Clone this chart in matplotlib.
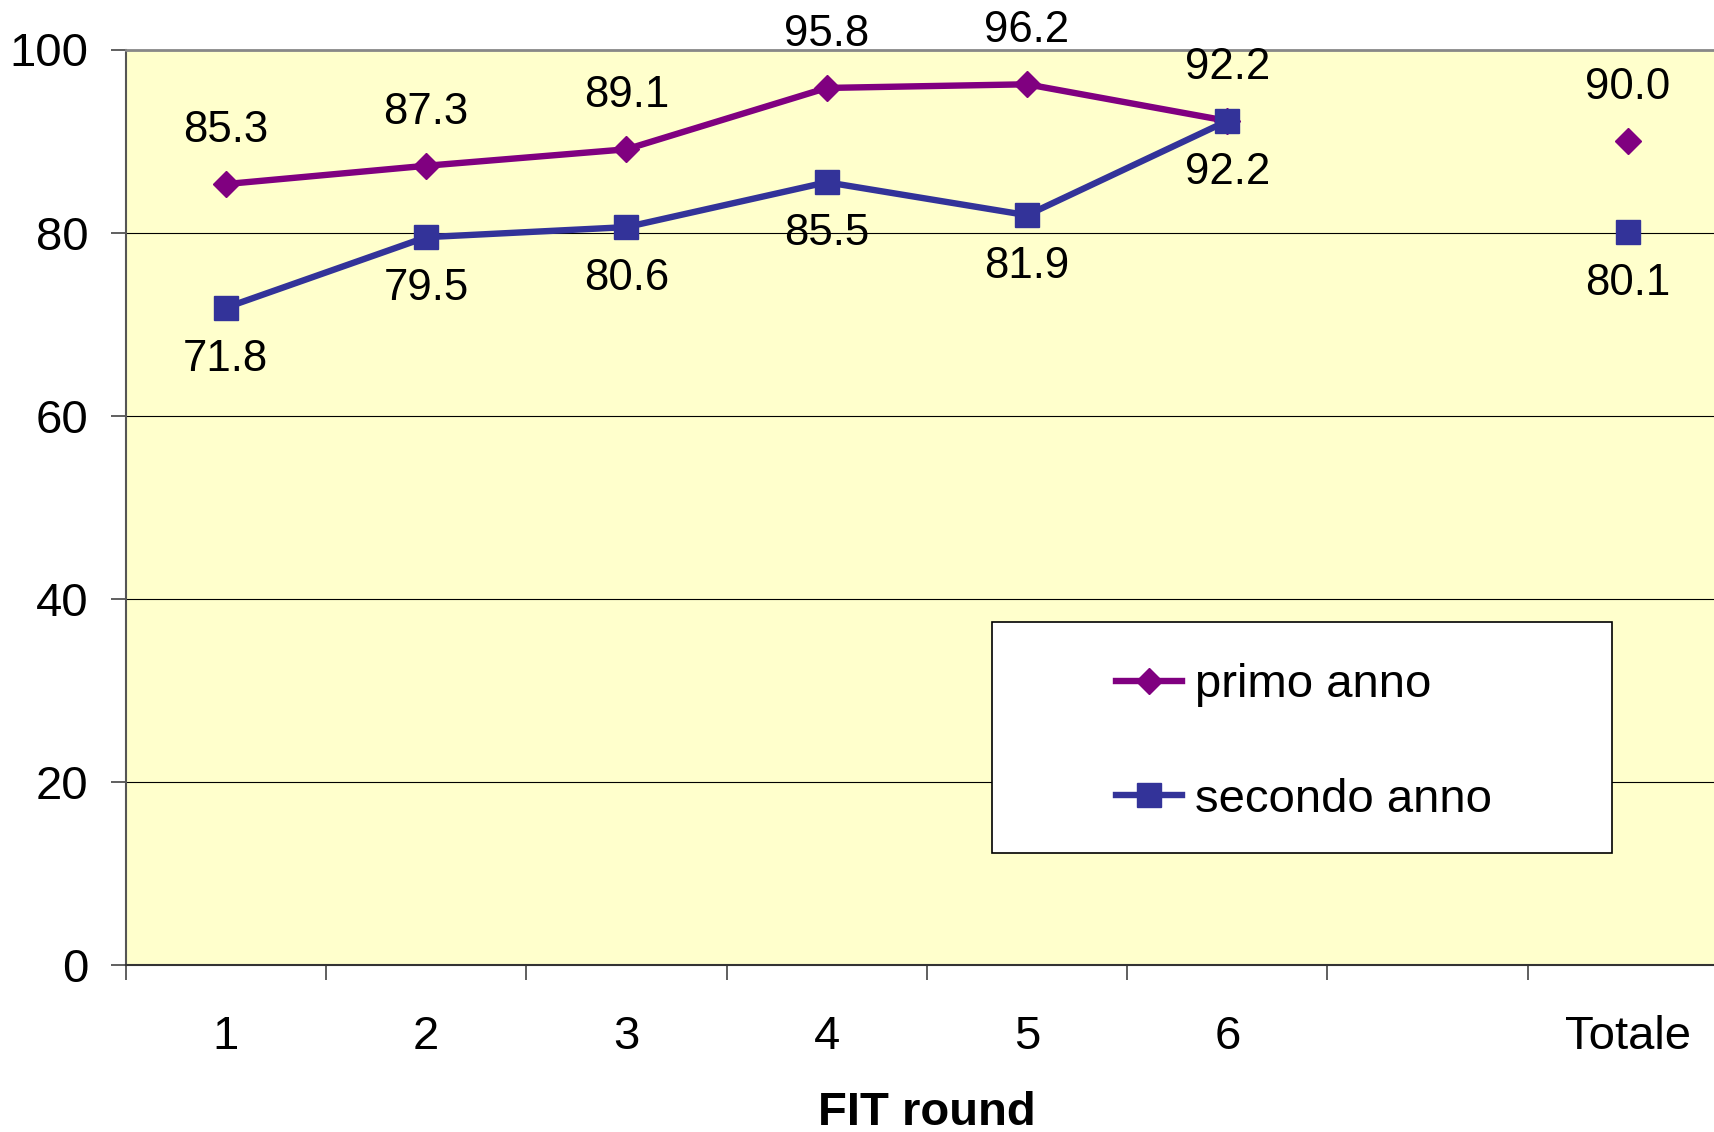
import matplotlib
matplotlib.use("Agg")
import matplotlib.pyplot as plt
from matplotlib.patches import Rectangle
import numpy as np

plt.rcParams['font.family'] = ['Liberation Sans', 'DejaVu Sans']

# data
categories = ["1", "2", "3", "4", "5", "6", "", "Totale"]
primo_anno = [85.3, 87.3, 89.1, 95.8, 96.2, 92.2, np.nan, 90.0]
secondo_anno = [71.8, 79.5, 80.6, 85.5, 81.9, 92.2, np.nan, 80.1]
y_ticks = [0, 20, 40, 60, 80, 100]

purple = "#800080"
blue = "#333399"

fig = plt.figure(figsize=(17.15, 11.32), dpi=100)
W, H = 1715, 1132
left_px, right_px, top_px, bottom_px = 125.7, 125.7 + 8 * 200.3, 49.5, 965
ax = fig.add_axes([left_px / W, 1 - bottom_px / H,
                   (right_px - left_px) / W, (bottom_px - top_px) / H])
ax.set_facecolor("#FFFFCC")

xc = np.arange(len(categories)) + 0.5

ax.plot(xc, primo_anno, color=purple, lw=4.6, marker="D", ms=13.5,
        label="primo anno", zorder=5)
ax.plot(xc, secondo_anno, color=blue, lw=4.6, marker="s", ms=17,
        label="secondo anno", zorder=5)

for x, v in zip(xc, primo_anno):
    if not np.isnan(v):
        ax.annotate(f"{v:.1f}", (x, v), xytext=(0, 38.5), textcoords="offset points",
                    ha="center", va="center", fontsize=31.5, zorder=6)
for x, v in zip(xc, secondo_anno):
    if not np.isnan(v):
        ax.annotate(f"{v:.1f}", (x, v), xytext=(0, -37), textcoords="offset points",
                    ha="center", va="center", fontsize=31.5, zorder=6)

ax.set_xlim(0, len(categories))
ax.set_ylim(0, 100)
ax.set_yticks(y_ticks)
ax.set_yticklabels([str(t) for t in y_ticks])
ax.yaxis.grid(True, color="black", lw=0.8)
ax.set_axisbelow(True)

ax.set_xticks(np.arange(len(categories) + 1))
ax.set_xticklabels([])
ax.set_xticks(xc, minor=True)
ax.set_xticklabels(categories, minor=True)
ax.tick_params(axis="x", which="major", direction="out", length=10.8, width=1.2, color="#444444")
ax.tick_params(axis="x", which="minor", length=0, pad=36, labelsize=34)
ax.tick_params(axis="y", direction="out", length=10.8, width=1.2, color="#444444",
               pad=16, labelsize=34)

ax.spines["right"].set_visible(False)
ax.spines["top"].set_color("#888888")
ax.spines["top"].set_linewidth(2)
ax.spines["left"].set_color("#555555")
ax.spines["left"].set_linewidth(1.5)
ax.spines["bottom"].set_color("#333333")
ax.spines["bottom"].set_linewidth(1.5)

ax.set_xlabel("FIT round", fontsize=34, fontweight="bold", labelpad=23)

# legend box
ax.add_patch(Rectangle((0.5404, 0.1223), 0.3871, 0.2527, transform=ax.transAxes,
                       facecolor="white", edgecolor="black", lw=1.2, zorder=7))
leg = ax.legend(loc="center left", bbox_to_anchor=(0.618, 0.243), frameon=False,
                fontsize=34, borderpad=0, borderaxespad=0, handlelength=1.4,
                handletextpad=0.28, labelspacing=1.5)
leg.set_zorder(8)

fig.savefig("out.png", dpi=100)
